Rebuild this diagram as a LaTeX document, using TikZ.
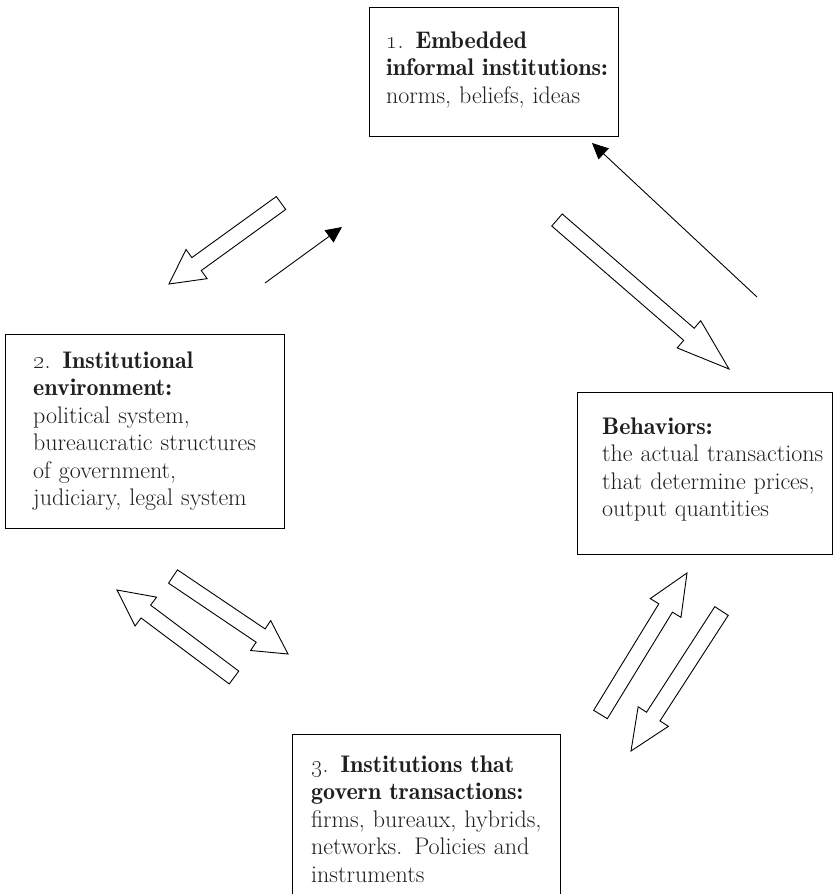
\documentclass[tikz,border=0pt]{standalone}
\usetikzlibrary{calc,arrows.meta}
\newcommand{\arrShaft}{8pt}
\newcommand{\arrHead}{18pt}
\newcommand{\sbf}[1]{{\fontseries{b}\selectfont #1}}
\newcommand{\blockarr}[3]{%
  \coordinate (bah) at ($(#2)!#3!(#1)$);
  \draw[blockarrow] ($(#1)!\arrShaft!90:(#2)$) -- ($(bah)!\arrShaft!90:(#2)$) -- ($(bah)!\arrHead!90:(#2)$) -- (#2) -- ($(bah)!\arrHead!-90:(#2)$) -- ($(bah)!\arrShaft!-90:(#2)$) -- ($(#1)!\arrShaft!-90:(#2)$) -- cycle;
}
\tikzset{
  box/.style={draw=black, line width=1pt, inner sep=0pt, anchor=north west},
  txt/.style={anchor=base west, inner sep=0pt, align=left, text width=250pt,
    text=black!88, font=\fontsize{24}{27.5}\selectfont},
  blockarrow/.style={draw=black, line width=0.9pt, line join=miter, fill=white},
  thinarrow/.style={draw=black, line width=0.9pt, -{Triangle[length=16pt,width=15pt]}}
}
\begin{document}
\begin{tikzpicture}[x=1pt, y=-1pt]
\clip (0,0) rectangle (833,894);
\fill[white] (0,0) rectangle (833,894);
% boxes
\node[box, minimum width=249pt, minimum height=129pt] (b1) at (369,7) {};
\node[txt] (t1) at (386,48) {\oldstylenums{1}. \sbf{Embedded}\\\sbf{informal institutions:}\\norms, beliefs, ideas};
\node[box, minimum width=279pt, minimum height=194pt] (b2) at (5,334) {};
\node[txt] (t2) at (33,368) {\oldstylenums{2}. \sbf{Institutional}\\\sbf{environment:}\\political system,\\bureaucratic structures\\of government,\\judiciary, legal system};
\node[box, minimum width=255pt, minimum height=162pt] (b4) at (577,392) {};
\node[txt] (t4) at (602,434) {\sbf{Behaviors:}\\the actual transactions\\that determine prices,\\output quantities};
\node[box, minimum width=268pt, minimum height=200pt] (b3) at (292,734) {};
\node[txt] (t3) at (311,772) {\oldstylenums{3}. \sbf{Institutions that}\\\sbf{govern transactions:}\\firms, bureaux, hybrids,\\networks. Policies and\\instruments};
% thin arrows
\coordinate (a1s) at (757,297); \coordinate (a1e) at (592,143);
\coordinate (a2s) at (265,283); \coordinate (a2e) at (342,227);
\draw[thinarrow] (a1s) -- (a1e);
\draw[thinarrow] (a2s) -- (a2e);
% block arrows
\coordinate (k1s) at (281,203); \coordinate (k1e) at (169,284);
\coordinate (k2s) at (557,220); \coordinate (k2e) at (729,369);
\coordinate (k3s) at (234,677.5); \coordinate (k3e) at (117,590);
\coordinate (k4s) at (173,576.5); \coordinate (k4e) at (288,654);
\coordinate (k5s) at (600.5,714.5); \coordinate (k5e) at (687,573);
\coordinate (k6s) at (721.5,611); \coordinate (k6e) at (631,751);
\blockarr{k1s}{k1e}{34pt}
\blockarr{k2s}{k2e}{53pt}
\blockarr{k3s}{k3e}{36pt}
\blockarr{k4s}{k4e}{33pt}
\blockarr{k5s}{k5e}{41pt}
\blockarr{k6s}{k6e}{41pt}
\end{tikzpicture}
\end{document}
